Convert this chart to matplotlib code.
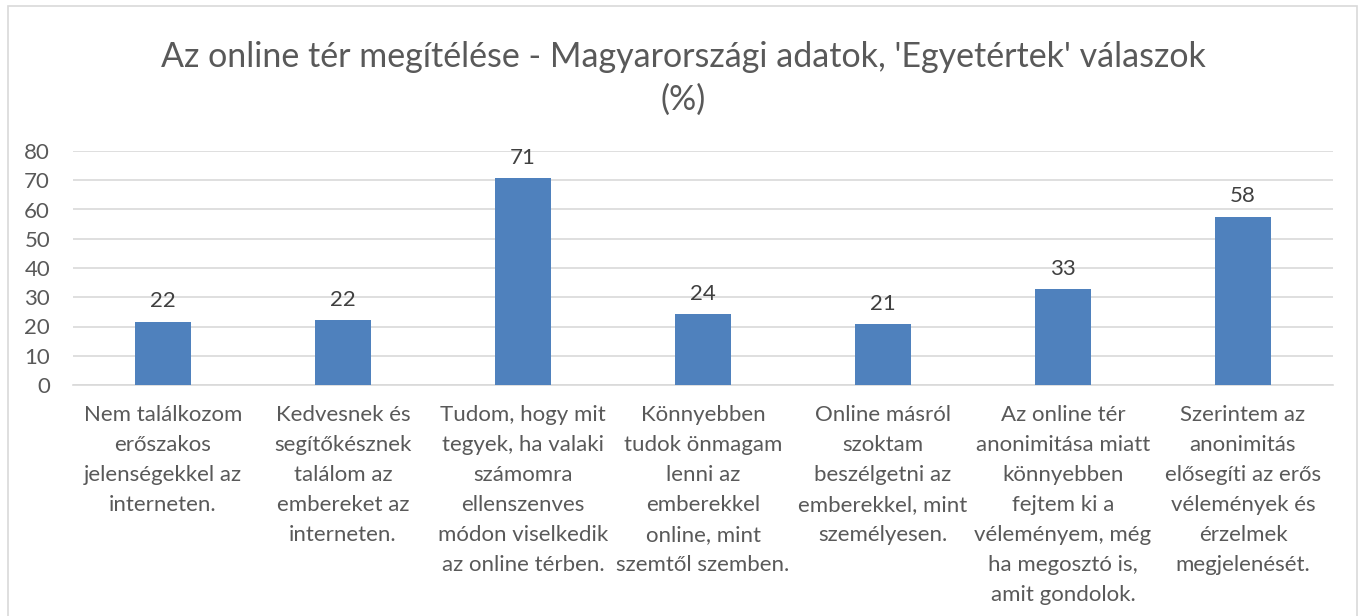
import matplotlib
matplotlib.use("Agg")
import matplotlib.pyplot as plt
from matplotlib.patches import Rectangle

categories = [
    "Nem találkozom\nerőszakos\njelenségekkel az\ninterneten.",
    "Kedvesnek és\nsegítőkésznek\ntalálom az\nembereket az\ninterneten.",
    "Tudom, hogy mit\ntegyek, ha valaki\nszámomra\nellenszenves\nmódon viselkedik\naz online térben.",
    "Könnyebben\ntudok önmagam\nlenni az\nemberekkel\nonline, mint\nszemtől szemben.",
    "Online másról\nszoktam\nbeszélgetni az\nemberekkel, mint\nszemélyesen.",
    "Az online tér\nanonimitása miatt\nkönnyebben\nfejtem ki a\nvéleményem, még\nha megosztó is,\namit gondolok.",
    "Szerintem az\nanonimitás\nelősegíti az erős\nvélemények és\nérzelmek\nmegjelenését.",
]
values = [21.6, 22.1, 70.6, 24.2, 20.8, 32.7, 57.6]
yticks = [0, 10, 20, 30, 40, 50, 60, 70, 80]
title = "Az online tér megítélése - Magyarországi adatok, 'Egyetértek' válaszok\n(%)"

plt.rcParams['font.family'] = ['Lato', 'DejaVu Sans']
txt = "#595959"

fig = plt.figure(figsize=(13.66, 6.16), dpi=100)
fig.patch.set_facecolor("white")
fig.add_artist(Rectangle((8/1366, -0.01), 1349/1366, 1 - 6/616 + 0.01,
                         transform=fig.transFigure, fill=False,
                         edgecolor="#d9d9d9", linewidth=1.2))

ax = fig.add_axes([73/1366, 1 - 385/616, (1333 - 73)/1366, (385 - 151)/616])
x = list(range(len(categories)))
bars = ax.bar(x, values, width=0.31, color="#4F81BD", zorder=3)
for xi, v in zip(x, values):
    ax.text(xi, v + 3.6, f"{v:.0f}", ha="center", va="bottom",
            fontsize=16, color="#404040")

ax.set_xlim(-0.5, len(categories) - 0.5)
ax.set_ylim(0, 80)
ax.set_yticks(yticks)
ax.set_yticklabels([str(t) for t in yticks], fontsize=16, color=txt)
ax.set_xticks(x)
ax.set_xticklabels(categories, fontsize=16, color=txt, linespacing=1.62, va="top")
ax.tick_params(axis="y", length=0, pad=16.5)
ax.tick_params(axis="x", length=0, pad=14.5)
ax.grid(axis="y", color="#d9d9d9", linewidth=1.2, zorder=0)
for s in ["top", "right", "left"]:
    ax.spines[s].set_visible(False)
ax.spines["bottom"].set_color("#d9d9d9")
ax.spines["bottom"].set_linewidth(1.2)

fig.text(0.5, 1 - 41/616, title, ha="center", va="top", fontsize=24.5,
         color=txt, linespacing=1.42)

fig.savefig("out.png", dpi=100)
